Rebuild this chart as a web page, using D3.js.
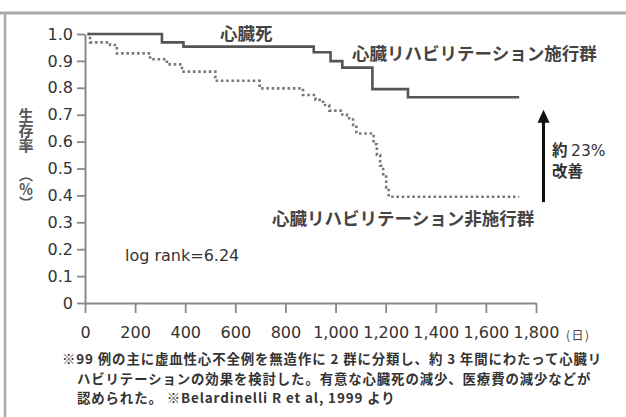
<!DOCTYPE html>
<html><head><meta charset="utf-8">
<script src="https://cdn.jsdelivr.net/npm/d3@7"></script>
<style>
html,body{margin:0;padding:0;background:#fff;}
svg{display:block;}
</style></head>
<body>
<svg id="c" width="626" height="417"></svg>
<script>
// ---- data ----
const xTicks = [0, 200, 400, 600, 800, 1000, 1200, 1400, 1600, 1800];
const xTickLabels = ["0", "200", "400", "600", "800", "1,000", "1,200", "1,400", "1,600", "1,800"];
const yTicks = [0, 0.1, 0.2, 0.3, 0.4, 0.5, 0.6, 0.7, 0.8, 0.9, 1.0];
const yTickLabels = ["0", "0.1", "0.2", "0.3", "0.4", "0.5", "0.6", "0.7", "0.8", "0.9", "1.0"];

const rehabDays = [10, 307, 393, 913, 980, 1027, 1147, 1289, 1733];
const rehabSurv = [1.0, 0.969, 0.953, 0.932, 0.899, 0.875, 0.795, 0.765, 0.765];

const controlDays = [10, 20, 100, 127, 260, 327, 387, 520, 697, 870, 920, 950, 975, 1020, 1045, 1070, 1083, 1152, 1165, 1178, 1190, 1202, 1212, 1733];
const controlSurv = [1.0, 0.969, 0.959, 0.928, 0.906, 0.887, 0.860, 0.826, 0.798, 0.773, 0.755, 0.736, 0.715, 0.701, 0.687, 0.662, 0.630, 0.59, 0.55, 0.51, 0.47, 0.43, 0.395, 0.395];

const arrowFrom = 0.375, arrowTo = 0.718, arrowDay = 1830;

const footer = [
  "※99 例の主に虚血性心不全例を無造作に 2 群に分類し、約 3 年間にわたって心臓リ",
  "ハビリテーションの効果を検討した。有意な心臓死の減少、医療費の減少などが",
  "認められた。 ※Belardinelli R et al, 1999 より"
];

// ---- drawing ----
const svg = d3.select("#c");
const jp = "'Noto Sans CJK JP','Noto Sans CJK SC',sans-serif";
const lat = "'DejaVu Sans',sans-serif";

const x = d3.scaleLinear().domain([0, 1800]).range([85, 536]);
const y = d3.scaleLinear().domain([0, 1]).range([303, 34]);

// frame
svg.append("line").attr("x1", 0).attr("x2", 626).attr("y1", 13).attr("y2", 13)
  .attr("stroke", "#aaa").attr("stroke-width", 3);
svg.append("line").attr("x1", 5).attr("x2", 5).attr("y1", 12).attr("y2", 417)
  .attr("stroke", "#aaa").attr("stroke-width", 2.5);

// axes
const xAxis = d3.axisBottom(x).tickValues(xTicks).tickSize(10).tickSizeOuter(0).tickPadding(14)
  .tickFormat((d, i) => xTickLabels[i]);
const gx = svg.append("g").attr("transform", "translate(0,303)").call(xAxis);
const yAxis = d3.axisLeft(y).tickValues(yTicks).tickSize(8).tickSizeOuter(0).tickPadding(4)
  .tickFormat((d, i) => yTickLabels[i]);
const gy = svg.append("g").attr("transform", "translate(85,0)").call(yAxis);

[gx, gy].forEach(g => {
  g.select(".domain").attr("stroke", "#888").attr("stroke-width", 2);
  g.selectAll(".tick line").attr("stroke", "#888").attr("stroke-width", 1.8);
  g.selectAll(".tick text").attr("fill", "#333").style("font-family", lat)
    .style("font-size", "16px");
});

svg.append("text").attr("x", 566).attr("y", 340).attr("fill", "#444")
  .style("font-family", jp).style("font-size", "12px").style("letter-spacing", "1.5px")
  .text("(日)");

// y title (vertical)
svg.append("text").attr("x", 26).attr("y", 108)
  .style("writing-mode", "vertical-rl").attr("fill", "#555")
  .style("font-family", jp).style("font-size", "15px").style("font-weight", "bold")
  .text("生存率");
svg.append("text").attr("x", 26).attr("y", 168)
  .style("writing-mode", "vertical-rl").attr("fill", "#555")
  .style("font-family", jp).style("font-size", "14px").style("font-weight", "bold")
  .text("（％）");

// curves
const line = d3.line().x(d => x(d[0])).y(d => y(d[1])).curve(d3.curveStepAfter);
const rehab = rehabDays.map((d, i) => [d, rehabSurv[i]]);
const control = controlDays.map((d, i) => [d, controlSurv[i]]);

svg.append("path").attr("d", line(control)).attr("fill", "none")
  .attr("stroke", "#777").attr("stroke-width", 2.6).attr("stroke-dasharray", "2.5,2.8");
svg.append("path").attr("d", line(rehab)).attr("fill", "none")
  .attr("stroke", "#555").attr("stroke-width", 2.6);

// labels
function jt(tx, ty, s, size, color, weight) {
  return svg.append("text").attr("x", tx).attr("y", ty).attr("fill", color || "#333")
    .style("font-family", jp).style("font-size", size + "px").style("font-weight", weight || "bold").text(s);
}
jt(220, 40, "心臓死", 17.5, "#444");
jt(352, 60, "心臓リハビリテーション施行群", 17.5, "#444");
jt(272, 225, "心臓リハビリテーション非施行群", 17.5, "#444");

svg.append("text").attr("x", 125).attr("y", 261).attr("fill", "#333")
  .style("font-family", lat).style("font-size", "16px").text("log rank=6.24");

// arrow
const ax = x(arrowDay);
svg.append("line").attr("x1", ax).attr("x2", ax).attr("y1", y(arrowFrom)).attr("y2", y(arrowTo) + 10)
  .attr("stroke", "#111").attr("stroke-width", 3);
svg.append("path")
  .attr("d", `M${ax},${y(arrowTo)} L${ax - 6},${y(arrowTo) + 13} L${ax + 6},${y(arrowTo) + 13} Z`)
  .attr("fill", "#111");

const at = svg.append("text").attr("x", 552).attr("y", 156).attr("fill", "#333")
  .style("font-size", "15.5px").style("font-weight", "bold");
at.append("tspan").style("font-family", jp).text("約 ");
at.append("tspan").style("font-family", lat).style("font-weight", "normal").text("23%");
jt(552, 177, "改善", 15.5, "#333");

// footer
const fx = [62, 77, 77];
const fy = [364, 383.5, 403];
footer.forEach((s, i) => {
  svg.append("text").attr("x", fx[i]).attr("y", fy[i]).attr("fill", "#333")
    .style("font-family", jp).style("font-size", "13.4px").style("font-weight", "bold")
    .style("letter-spacing", "0.9px").text(s);
});
</script>
</body></html>
